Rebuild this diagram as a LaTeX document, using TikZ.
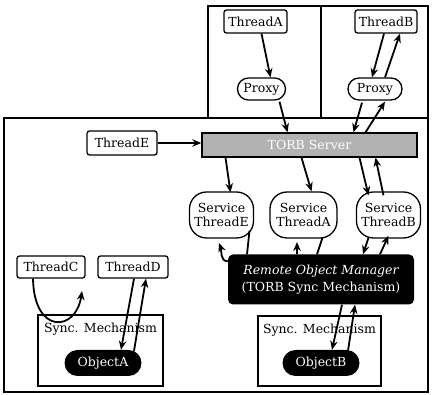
\documentclass[tikz,border=0pt]{standalone}
\usepackage{fontspec}
\setmainfont{DejaVu Serif}
\usetikzlibrary{arrows.meta,shapes.misc}
\begin{document}
\begin{tikzpicture}[x=1pt,y=-1pt,
  every node/.style={font=\fontsize{12.5}{14}\selectfont, inner sep=0pt},
  frame/.style={draw=black, line width=1.3pt},
  thr/.style={draw=black, line width=1.3pt, rounded corners=2.5pt, minimum height=23pt},
  oval/.style={draw=black, line width=1.3pt, rounded rectangle, minimum height=22pt},
  svc/.style={draw=black, line width=1.3pt, rounded corners=17pt, minimum width=64pt, minimum height=46pt, align=center},
  obj/.style={fill=black, text=white, rounded rectangle, minimum width=77pt, minimum height=26pt},
  arr/.style={line width=1.8pt, -{Stealth[length=9pt,width=7.5pt]}},
  ln/.style={line width=1.8pt}
]
\useasboundingbox (0,0) rectangle (432,395);
% frames
\draw[frame] (208,6) rectangle (321,118);
\draw[frame] (321,6) rectangle (428,118);
\draw[frame] (4,118) rectangle (428,392);
\draw[frame] (38,315) rectangle (163,386);
\draw[frame] (258,316) rectangle (381,386);
\node[anchor=north] (symL) at (100.5,323) {Sync. Mechanism};
\node[anchor=north] (symR) at (319.5,324) {Sync. Mechanism};
% nodes
\node[thr, minimum width=63pt] (ThreadA) at (255.5,21.5) {ThreadA};
\node[thr, minimum width=62pt] (ThreadB) at (386,21.5) {ThreadB};
\node[oval, minimum width=48pt] (ProxyA) at (261.5,89) {Proxy};
\node[oval, minimum width=54pt] (ProxyB) at (375,89) {Proxy};
\node[draw=black, line width=1.3pt, fill=gray!60, text=white, minimum width=215pt, minimum height=24pt] (Server) at (309.5,145) {TORB Server};
\node[thr, minimum width=70pt, minimum height=24pt] (ThreadE) at (122,143) {ThreadE};
\node[svc] (SvcE) at (221.5,215) {Service\\ThreadE};
\node[svc, minimum width=67pt] (SvcA) at (303.5,215) {Service\\ThreadA};
\node[svc] (SvcB) at (388.5,215) {Service\\ThreadB};
\node[fill=black, text=white, rounded corners=5pt, minimum width=186pt, minimum height=50pt, align=center] (ROM) at (321,279.5) {\itshape Remote Object Manager\\[3pt](TORB Sync Mechanism)};
\node[thr, minimum width=68pt, minimum height=22pt] (ThreadC) at (51,267) {ThreadC};
\node[thr, minimum width=70pt, minimum height=22pt] (ThreadD) at (133,267) {ThreadD};
\node[obj] (ObjectA) at (103,363) {ObjectA};
\node[obj] (ObjectB) at (321,363) {ObjectB};
% free ends
\coordinate (uE) at (219,243);
\coordinate (uA) at (297,242);
\coordinate (uC) at (82,291);
% connectors
\draw[arr] ([xshift=6pt]ThreadA.south) -- ([xshift=9pt]ProxyA.north);
\draw[arr] ([xshift=18pt,yshift=-1pt]ProxyA.south) -- ([xshift=-22pt]Server.north);
\draw[arr] ([xshift=-2pt]ThreadB.south) -- ([xshift=-3pt]ProxyB.north);
\draw[arr] ([xshift=10pt]ProxyB.north) -- ([xshift=14pt]ThreadB.south);
\draw[arr] ([xshift=-13pt,yshift=-2pt]ProxyB.south) -- ([xshift=44pt]Server.north);
\draw[arr] ([xshift=56pt]Server.north) -- ([xshift=10pt,yshift=-1pt]ProxyB.south);
\draw[arr] (ThreadE.east) -- (ThreadE.east -| Server.west);
\draw[arr] ([xshift=-84pt]Server.south) -- ([xshift=9pt,yshift=-1pt]SvcE.north);
\draw[arr] ([xshift=-8pt]Server.south) -- ([xshift=8pt]SvcA.north);
\draw[arr] ([xshift=50pt]Server.south) -- ([xshift=-20pt,yshift=-4pt]SvcB.north);
\draw[arr] ([xshift=-5pt,yshift=-4pt]SvcB.north) -- ([xshift=66pt]Server.south);
\draw[ln] ([xshift=28pt,yshift=8pt]SvcE.south) -- ([xshift=-74pt]ROM.north);
\draw[arr] ([yshift=-7pt]ROM.north west) to[out=180,in=-70] (uE);
\draw[ln] ([xshift=19pt,yshift=1pt]SvcA.south) -- ([xshift=-4pt]ROM.north);
\draw[arr] ([xshift=-24pt]ROM.north) -- (uA);
\draw[arr] ([xshift=-20pt,yshift=1pt]SvcB.south) -- ([xshift=42pt]ROM.north);
\draw[arr] ([xshift=59pt]ROM.north) -- ([xshift=0pt,yshift=3pt]SvcB.south);
\draw[arr] ([xshift=-18pt]ThreadC.south) .. controls (34,335) and (76,332) .. (uC);
\draw[arr] ([xshift=1pt]ThreadD.south) -- ([xshift=18pt]ObjectA.north);
\draw[arr] ([xshift=31pt,yshift=-1pt]ObjectA.north) -- ([xshift=13pt]ThreadD.south);
\draw[arr] ([xshift=21pt]ROM.south) -- ([xshift=11pt]ObjectB.north);
\draw[arr] ([xshift=27pt,yshift=-1pt]ObjectB.north) -- ([xshift=34pt]ROM.south);
\end{tikzpicture}
\end{document}
